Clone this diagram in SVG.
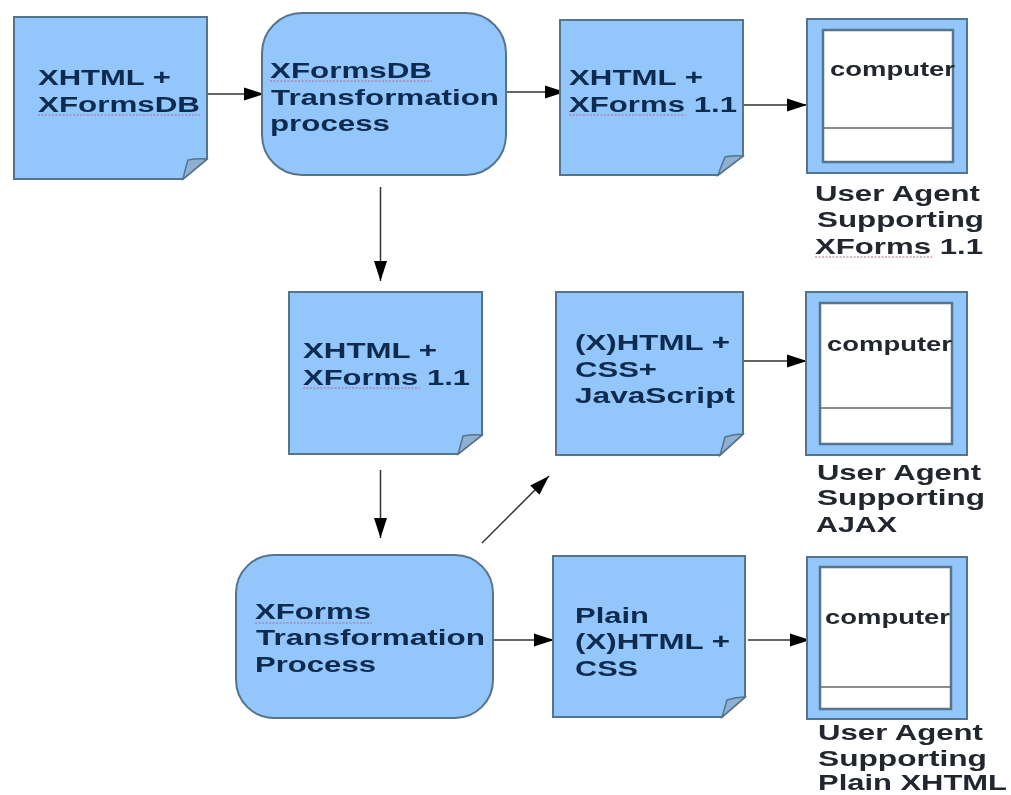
<svg xmlns="http://www.w3.org/2000/svg" width="1011" height="795" viewBox="0 0 1011 795">
<style>
svg>g{filter:url(#b)}
.s{fill:#93c6fb;stroke:#55748f;stroke-width:2}
.f{fill:#8fb0d2;stroke:#55748f;stroke-width:1.5}
.i{fill:#fff;stroke:#55748f;stroke-width:2.5}
.l{fill:none;stroke:#666;stroke-width:1.5}
.c{stroke:#333;stroke-width:1.5;fill:none;marker-end:url(#a)}
text{font-family:"Liberation Sans",Arial,sans-serif;font-weight:700;font-size:22.5px}
.t{fill:#0f2a50}
.k{fill:#22282e}
.p{font-size:21px}
.w{fill:none;stroke:#b06a8c;stroke-width:1.2;stroke-dasharray:2 1.5}
</style>
<defs>
<filter id="b" x="-5%" y="-5%" width="110%" height="110%"><feGaussianBlur stdDeviation="0.55"/></filter>
<marker id="a" markerUnits="userSpaceOnUse" markerWidth="22" markerHeight="16" refX="20" refY="8" orient="auto"><path d="M0 1.5L20 8L0 14.5Z" fill="#000"/></marker></defs>
<rect width="1011" height="795" fill="#fff"/>
<g id="connectors">
<path class="c" d="M206 94H264"/>
<path class="c" d="M506 92H565"/>
<path class="c" d="M743 105H807"/>
<path class="c" d="M380.500 187V281"/>
<path class="c" d="M380.500 470V538"/>
<path class="c" d="M482 543L549 476"/>
<path class="c" d="M493 640H554"/>
<path class="c" d="M743 361H807"/>
<path class="c" d="M748 640H810"/>
</g>
<g id="doc1"><path class="s" d="M14 17H207V159L183 179H14Z"/><path class="f" d="M183 179Q186 166 188 160Q198 158 207 159Z"/>
<text class="t" x="38" y="85" textLength="133" lengthAdjust="spacingAndGlyphs">XHTML +</text><text class="t" x="38" y="112" textLength="162" lengthAdjust="spacingAndGlyphs">XFormsDB</text><path class="w" d="M38 115H200"/></g>
<g id="transform1"><rect class="s" x="262" y="13" width="244" height="162" rx="40"/>
<text class="t" x="270" y="78" textLength="162" lengthAdjust="spacingAndGlyphs">XFormsDB</text><text class="t" x="271" y="105" textLength="228" lengthAdjust="spacingAndGlyphs">Transformation</text><text class="t" x="270" y="131" textLength="120" lengthAdjust="spacingAndGlyphs">process</text><path class="w" d="M270 81H432"/></g>
<g id="doc2"><path class="s" d="M560 20H743V156L718 175H560Z"/><path class="f" d="M718 175Q722 164 725 157Q734 155 743 156Z"/>
<text class="t" x="569" y="85" textLength="134" lengthAdjust="spacingAndGlyphs">XHTML +</text><text class="t" x="569" y="112" textLength="168" lengthAdjust="spacingAndGlyphs">XForms 1.1</text><path class="w" d="M569 115H685"/></g>
<g id="computer1"><rect class="s" x="807" y="19" width="160" height="154"/><rect class="i" x="823" y="30" width="130" height="132"/><path class="l" d="M823 128H953"/>
<text class="k p" x="830" y="76" textLength="125" lengthAdjust="spacingAndGlyphs">computer</text>
<text class="k" x="815" y="201" textLength="165" lengthAdjust="spacingAndGlyphs">User Agent</text><text class="k" x="817" y="227" textLength="167" lengthAdjust="spacingAndGlyphs">Supporting</text><text class="k" x="815" y="254" textLength="168" lengthAdjust="spacingAndGlyphs">XForms 1.1</text><path class="w" d="M815 257H932"/></g>
<g id="doc3"><path class="s" d="M289 292H482V435L458 454H289Z"/><path class="f" d="M458 454Q461 444 463 436Q473 434 482 435Z"/>
<text class="t" x="303" y="358" textLength="134" lengthAdjust="spacingAndGlyphs">XHTML +</text><text class="t" x="303" y="385" textLength="167" lengthAdjust="spacingAndGlyphs">XForms 1.1</text><path class="w" d="M303 388H420"/></g>
<g id="doc4"><path class="s" d="M556 292H743V434L720 455H556Z"/><path class="f" d="M720 455Q723 445 725 437Q734 434 743 434Z"/>
<text class="t" x="575" y="350" textLength="155" lengthAdjust="spacingAndGlyphs">(X)HTML +</text><text class="t" x="575" y="377" textLength="82" lengthAdjust="spacingAndGlyphs">CSS+</text><text class="t" x="575" y="403" textLength="160" lengthAdjust="spacingAndGlyphs">JavaScript</text></g>
<g id="computer2"><rect class="s" x="806" y="292" width="161" height="163"/><rect class="i" x="820" y="303" width="132" height="141"/><path class="l" d="M820 408H952"/>
<text class="k p" x="827" y="351" textLength="125" lengthAdjust="spacingAndGlyphs">computer</text>
<text class="k" x="817" y="480" textLength="164" lengthAdjust="spacingAndGlyphs">User Agent</text><text class="k" x="817" y="505" textLength="168" lengthAdjust="spacingAndGlyphs">Supporting</text><text class="k" x="816" y="532" textLength="81" lengthAdjust="spacingAndGlyphs">AJAX</text></g>
<g id="transform2"><rect class="s" x="236" y="555" width="257" height="163" rx="38"/>
<text class="t" x="255" y="619" textLength="116" lengthAdjust="spacingAndGlyphs">XForms</text><text class="t" x="256" y="645" textLength="229" lengthAdjust="spacingAndGlyphs">Transformation</text><text class="t" x="255" y="672" textLength="121" lengthAdjust="spacingAndGlyphs">Process</text><path class="w" d="M255 623H372"/></g>
<g id="doc5"><path class="s" d="M553 556H745V697L722 717H553Z"/><path class="f" d="M722 717Q725 707 727 700Q736 697 745 697Z"/>
<text class="t" x="575" y="623" textLength="74" lengthAdjust="spacingAndGlyphs">Plain</text><text class="t" x="575" y="649" textLength="155" lengthAdjust="spacingAndGlyphs">(X)HTML +</text><text class="t" x="575" y="676" textLength="63" lengthAdjust="spacingAndGlyphs">CSS</text></g>
<g id="computer3"><rect class="s" x="807" y="557" width="160" height="162"/><rect class="i" x="820" y="567" width="131" height="142"/><path class="l" d="M820 687H951"/>
<text class="k p" x="825" y="624" textLength="125" lengthAdjust="spacingAndGlyphs">computer</text>
<text class="k" x="818" y="740" textLength="165" lengthAdjust="spacingAndGlyphs">User Agent</text><text class="k" x="818" y="766" textLength="169" lengthAdjust="spacingAndGlyphs">Supporting</text><text class="k" x="818" y="790" textLength="189" lengthAdjust="spacingAndGlyphs">Plain XHTML</text></g>
</svg>
